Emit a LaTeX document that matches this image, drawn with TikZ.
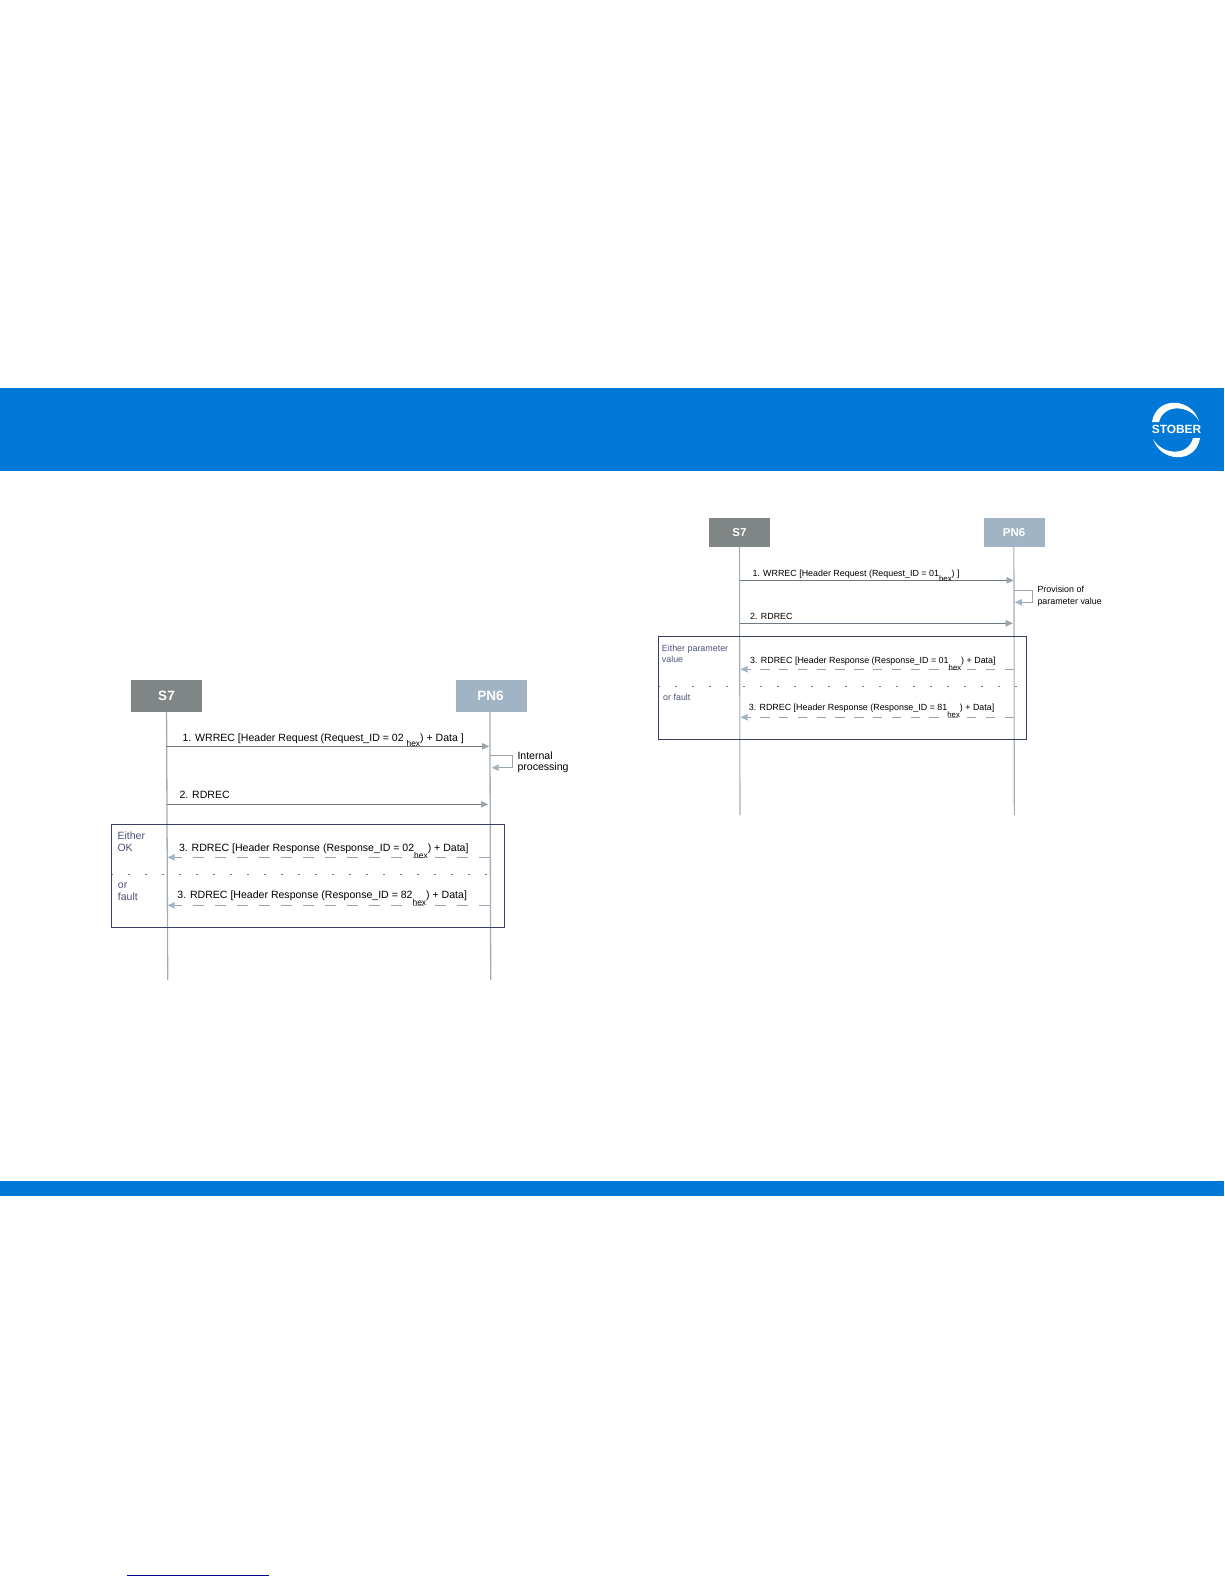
\documentclass[tikz,border=0pt]{standalone}
\usepackage{fontspec}
\setmainfont{Liberation Sans}
\usepackage{xcolor}
\usetikzlibrary{arrows.meta, positioning}
\definecolor{bandblue}{HTML}{0078D7}
\definecolor{hostgray}{HTML}{808585}
\definecolor{pnblue}{HTML}{A0B4C5}
\definecolor{lifegray}{HTML}{A3ADB6}
\definecolor{msggray}{HTML}{6F7982}
\definecolor{replygray}{HTML}{9AA3AB}
\definecolor{framenavy}{HTML}{3A3F66}
\definecolor{notenavy}{HTML}{4C5179}
\newcommand{\hexsub}[1]{\raisebox{-#1}{\fontsize{8.4}{8.4}\selectfont hex}}
\newcommand{\hexsubb}[1]{\raisebox{-#1}{\fontsize{7.8}{7.8}\selectfont hex}}
\tikzset{
  hostbox/.style={rectangle, draw=none, text=white, font=\bfseries\fontsize{13.5}{14}\selectfont,
                  minimum width=71pt, minimum height=32pt, inner sep=0pt},
  hostboxb/.style={hostbox, font=\bfseries\fontsize{11.5}{12}\selectfont,
                  minimum width=61pt, minimum height=28.5pt},
  lifeline/.style={draw=lifegray, line width=1.3pt},
  msg/.style={draw=msggray, line width=0.8pt, -{Triangle[length=7pt,width=6.5pt,color=replygray]}},
  selfmsg/.style={draw=replygray, line width=0.8pt, -{Triangle[length=7pt,width=6.5pt,color=pnblue]}},
  reply/.style={draw=replygray, line width=0.7pt, dash pattern=on 11pt off 11pt,
                -{Triangle[length=7pt,width=6.5pt,color=pnblue]}},
  replyb/.style={reply, dash pattern=on 9.5pt off 9.3pt},
  splitline/.style={draw=msggray, line width=0.8pt, dash pattern=on 1.5pt off 15.5pt},
  altframe/.style={draw=framenavy, line width=0.9pt},
  lbl/.style={anchor=west, inner sep=0pt, font=\fontsize{10.55}{11.5}\selectfont, align=left},
  lblb/.style={lbl, font=\fontsize{8.9}{11.4}\selectfont},
  msglbl/.style={lbl, anchor=base west},
  msglblb/.style={lblb, anchor=base west},
  note/.style={lbl, text=notenavy},
  noteb/.style={lblb, text=notenavy}
}
\begin{document}
\begin{tikzpicture}[x=1pt,y=-1pt]
    \useasboundingbox (0,0) rectangle (1224,1584);
    \fill[bandblue] (0,388) rectangle (1224,471);
    \fill[bandblue] (0,1181) rectangle (1224,1196);
    \draw[draw=blue!60!black, line width=0.9pt] (127,1575) -- (269,1575);

    % logo
    \node[text=white, inner sep=0pt, font=\bfseries\fontsize{11.9}{12}\selectfont] (logo) at (1176.5,429.5) {STOBER};
    \fill[white] (1152,422) .. controls (1156,396) and (1191,397) .. (1199,421)
                 .. controls (1190,405) and (1164,403) .. (1159,422) -- cycle;
    \fill[white] (1200,438) .. controls (1196,464) and (1161,463) .. (1153,439)
                 .. controls (1162,455) and (1188,457) .. (1193,438) -- cycle;

    % left sequence
    \node[hostbox, fill=hostgray] (s7a) at (166.5,696) {S7};
    \node[hostbox, fill=pnblue, right=254pt of s7a] (pn6a) {\hspace{-3pt}PN6};
    \coordinate (s7aend) at (167.7,980);
    \coordinate (pn6aend) at (490.7,980);
    \draw[lifeline] (s7a) -- (s7aend);
    \draw[lifeline] ([xshift=-2pt]pn6a.south) -- (pn6aend);

    \coordinate (am1s) at (166.3,746.3);
    \coordinate (am1e) at (489,746.3);
    \draw[msg] (am1s) -- (am1e);
    \node[msglbl] (am1t) at (182.3,741) {1. WRREC [Header Request (Request\_ID = 02 \hexsub{5.5pt}) + Data ]};

    \coordinate (aps) at (490,755.7);
    \coordinate (ape) at (491.7,767.7);
    \draw[selfmsg] (aps) -- (512.7,755.7) -- (512.7,767.7) -- (ape);
    \node[lbl] (apt) at (517.3,762.3) {Internal\\processing};

    \coordinate (am2s) at (166.6,804.3);
    \coordinate (am2e) at (488,804.3);
    \draw[msg] (am2s) -- (am2e);
    \node[msglbl] (am2t) at (179.3,798.7) {2. RDREC};

    \node[note] (aok) at (117.3,841.7) {Either\\OK};
    \coordinate (am3s) at (490,857.3);
    \coordinate (am3e) at (167.7,857.3);
    \draw[reply] (am3s) -- (am3e);
    \node[msglbl] (am3t) at (178.8,851) {3. RDREC [Header Response (Response\_ID = 02\hexsub{7pt}) + Data]};

    \coordinate (asp) at (111.3,874);
    \coordinate (aspe) at (491.7,874);
    \draw[splitline] (asp) -- (aspe);

    \node[note] (aor) at (117.7,891.5) {or\\fault};
    \coordinate (am4s) at (490,905.3);
    \coordinate (am4e) at (167.7,905.3);
    \draw[reply] (am4s) -- (am4e);
    \node[msglbl] (am4t) at (177.2,898.7) {3. RDREC [Header Response (Response\_ID = 82\hexsub{7pt}) + Data]};

    \coordinate (afa) at (111.3,824.3);
    \coordinate (afb) at (504.3,927.3);
    \draw[altframe] (afa) rectangle (afb);

    % right sequence
    \node[hostboxb, fill=hostgray] (s7b) at (739.5,532.5) {S7};
    \node[hostboxb, fill=pnblue, right=214pt of s7b] (pn6b) {\hspace{-1.5pt}PN6};
    \coordinate (s7bend) at (740,815);
    \coordinate (pn6bend) at (1014.3,815);
    \draw[lifeline, line width=1.1pt] (s7b) -- (s7bend);
    \draw[lifeline, line width=1.1pt] ([xshift=-1pt]pn6b.south) -- (pn6bend);

    \coordinate (bm1s) at (739.5,580.3);
    \coordinate (bm1e) at (1013.5,580.3);
    \draw[msg] (bm1s) -- (bm1e);
    \node[msglblb] (bm1t) at (752.3,576) {1. WRREC [Header Request (Request\_ID = 01\hexsubb{5pt}) ]};

    \coordinate (bps) at (1013.5,590.3);
    \coordinate (bpe) at (1015,602.3);
    \draw[selfmsg] (bps) -- (1032.3,590.3) -- (1032.3,602.3) -- (bpe);
    \node[lblb] (bpt) at (1037.3,596) {Provision of\\parameter value};

    \coordinate (bm2s) at (739.6,623.3);
    \coordinate (bm2e) at (1012.7,623.3);
    \draw[msg] (bm2s) -- (bm2e);
    \node[msglblb] (bm2t) at (750,619.3) {2. RDREC};

    \node[noteb] (bok) at (661.7,654) {Either parameter\\value};
    \coordinate (bm3s) at (1014,669.3);
    \coordinate (bm3e) at (740.7,669.3);
    \draw[replyb] (bm3s) -- (bm3e);
    \node[msglblb] (bm3t) at (750,663) {3. RDREC [Header Response (Response\_ID = 01\hexsubb{7pt}) + Data]};

    \coordinate (bsp) at (658.3,686.3);
    \coordinate (bspe) at (1019.3,686.3);
    \draw[splitline] (bsp) -- (bspe);

    \node[noteb] (bor) at (663,697.7) {or fault};
    \coordinate (bm4s) at (1014,717.3);
    \coordinate (bm4e) at (740.7,717.3);
    \draw[replyb] (bm4s) -- (bm4e);
    \node[msglblb] (bm4t) at (748.7,710.7) {3. RDREC [Header Response (Response\_ID = 81\hexsubb{7pt}) + Data]};

    \coordinate (bfa) at (658.3,636.3);
    \coordinate (bfb) at (1026.7,739.3);
    \draw[altframe] (bfa) rectangle (bfb);
\end{tikzpicture}
\end{document}
